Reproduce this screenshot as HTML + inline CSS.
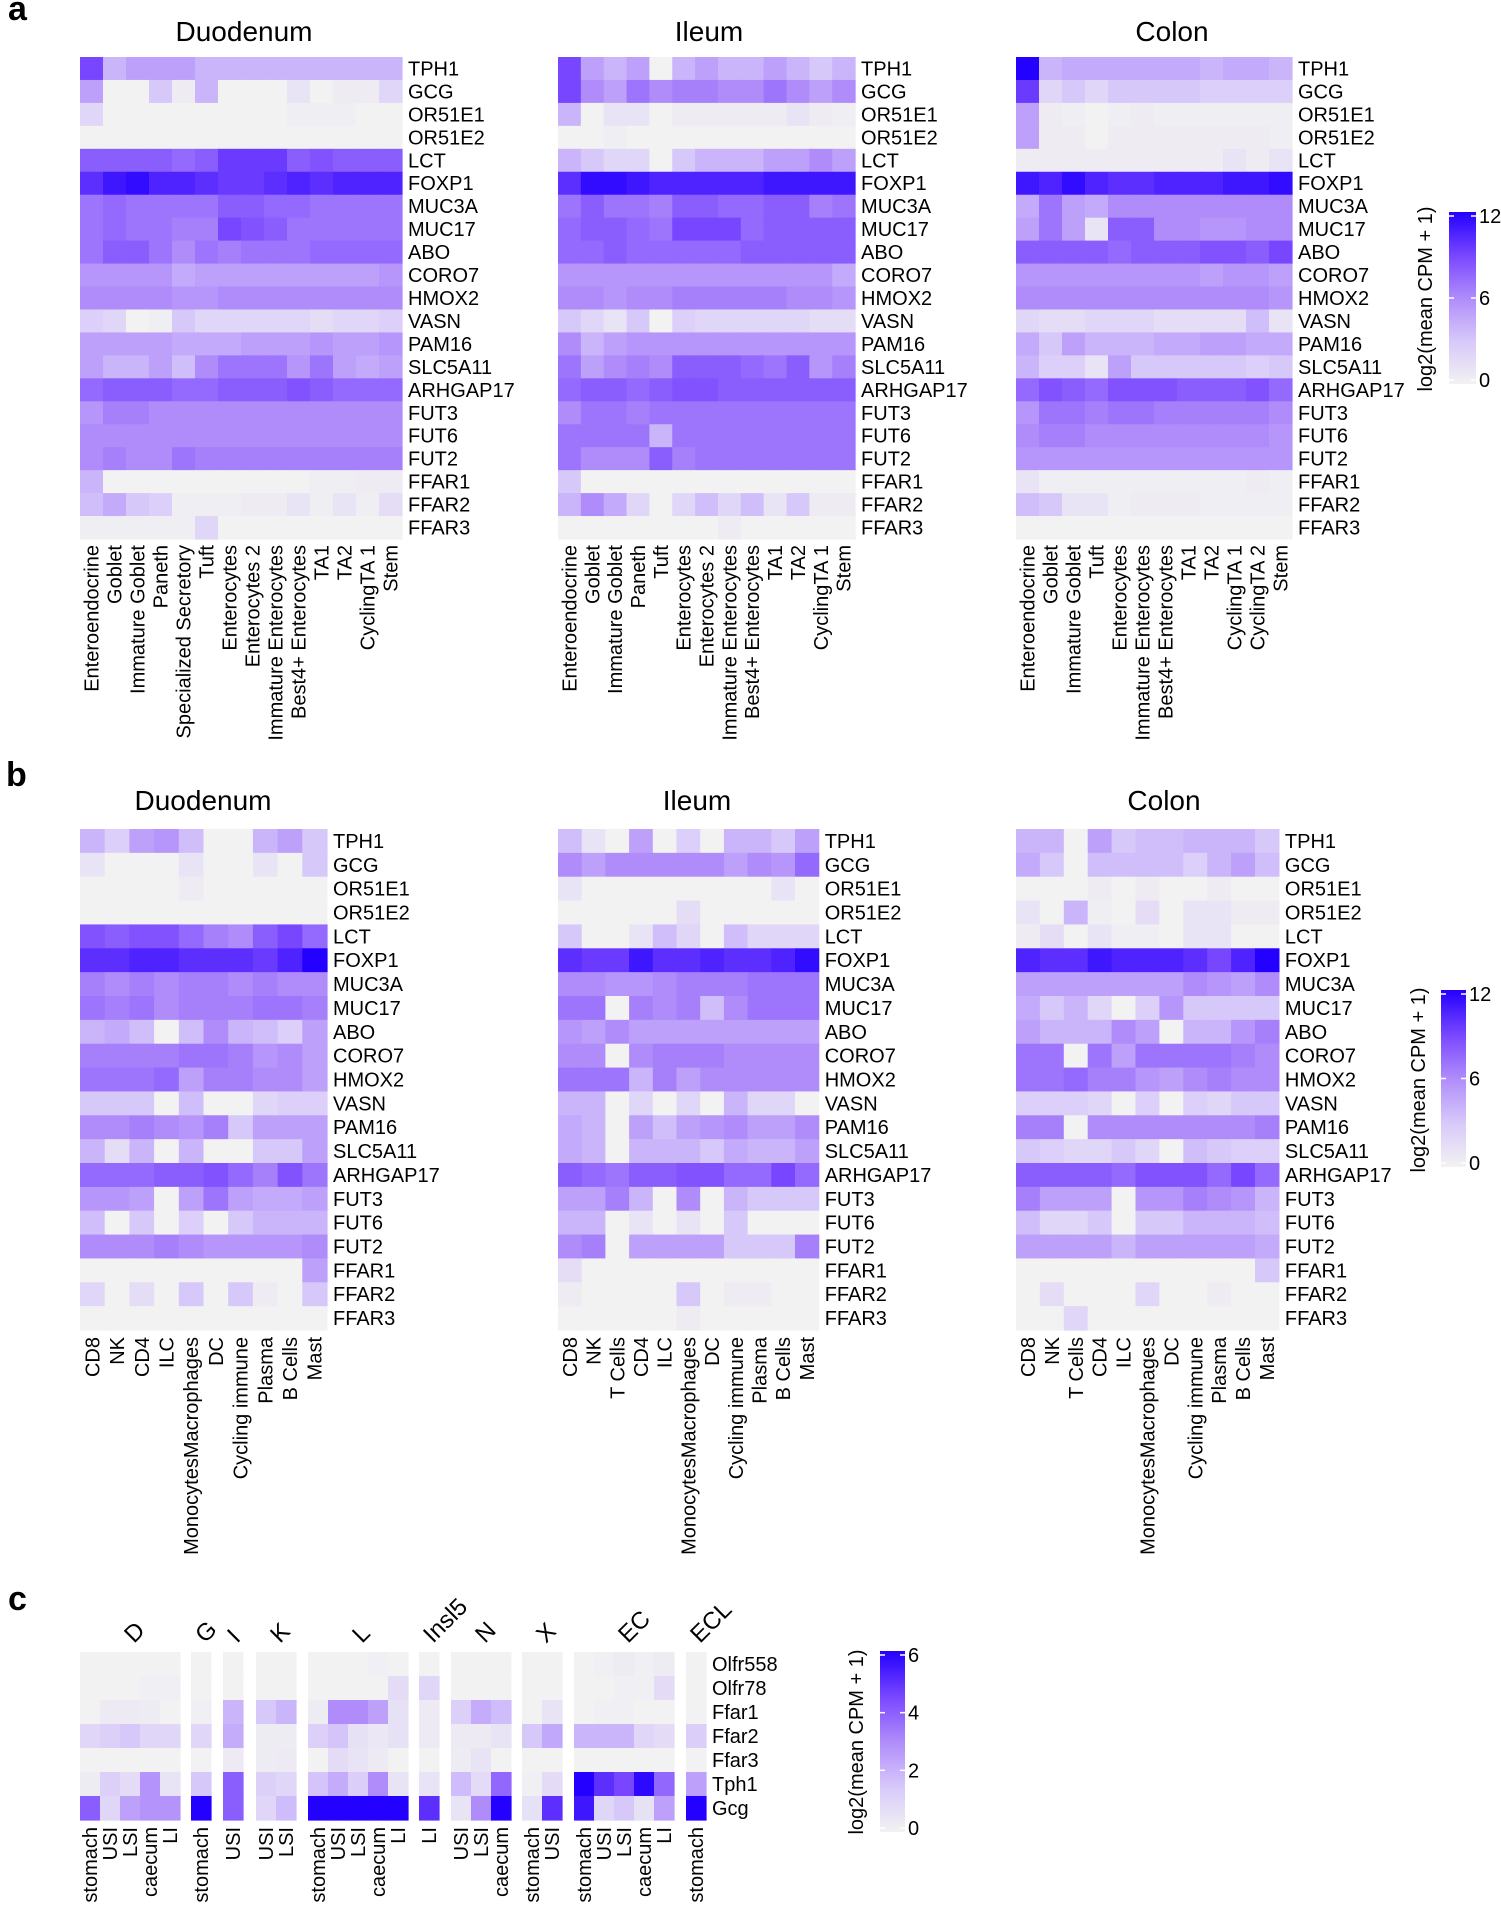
<!DOCTYPE html>
<html><head><meta charset="utf-8"><style>
html,body{margin:0;padding:0;background:#fff;}
svg{display:block;font-family:"Liberation Sans",Arial,sans-serif;}
</style></head><body>
<svg id="s" width="1501" height="1906" viewBox="0 0 1501 1906" xmlns="http://www.w3.org/2000/svg">
<rect width="1501" height="1906" fill="#fff"/>
<defs><linearGradient id="lg" x1="0" y1="1" x2="0" y2="0">
<stop offset="0" stop-color="#f2f2f2"/><stop offset="0.25" stop-color="#d7c8fa"/><stop offset="0.5" stop-color="#af8cfa"/><stop offset="0.75" stop-color="#7846ff"/><stop offset="1" stop-color="#2300ff"/></linearGradient></defs>
<g font-weight="bold" font-size="34" fill="#000"><text x="8" y="20">a</text><text x="6" y="786">b</text><text x="8" y="1610">c</text></g>
<g id="g"></g>
</svg>
<script>
var G=document.getElementById('g'),out='';
var stops=[[0,[242,242,242]],[3,[215,200,250]],[6,[175,140,250]],[9,[120,70,255]],[12,[35,0,255]]];
function col(v,max){var t=v/max*12;if(t>12)t=12;if(t<0)t=0;for(var i=0;i<4;i++){var a=stops[i],b=stops[i+1];if(t<=b[0]){var f=(t-a[0])/(b[0]-a[0]);return 'rgb('+[0,1,2].map(function(k){return Math.round(a[1][k]+(b[1][k]-a[1][k])*f)}).join(',')+')';}}return 'rgb(35,0,255)';}
function T(x,y,s,opt){opt=opt||{};out+='<text x="'+x+'" y="'+y+'" font-size="'+(opt.fs||20)+'"'+(opt.a?' text-anchor="'+opt.a+'"':'')+(opt.tr?' transform="'+opt.tr+'"':'')+'>'+s+'</text>';}
function heat(x0,y0,cw,rh,data,max,rows,cols,labGap){
 var nr=data.length,nc=data[0].length;
 for(var r=0;r<nr;r++)for(var c=0;c<nc;c++){out+='<rect x="'+(x0+c*cw).toFixed(2)+'" y="'+(y0+r*rh).toFixed(2)+'" width="'+(cw+0.6).toFixed(2)+'" height="'+(rh+0.6).toFixed(2)+'" fill="'+col(data[r][c],max)+'"/>';}
 if(rows)for(var r=0;r<nr;r++)T(x0+nc*cw+6,y0+r*rh+rh/2+7,rows[r]);
 if(cols)for(var c=0;c<nc;c++){var cx=x0+c*cw+cw/2+7,yy=y0+nr*rh+(labGap||6);T(0,0,cols[c],{a:'end',tr:'translate('+cx.toFixed(1)+','+yy.toFixed(1)+') rotate(-90)'});}
}
function legend(x,y,w,h,max,ticks,tx,ty){
 out+='<rect x="'+x+'" y="'+y+'" width="'+w+'" height="'+h+'" fill="url(#lg)"/>';
 ticks.forEach(function(v){var yy=y+h-4-(h-8)*v/max;out+='<line x1="'+x+'" x2="'+(x+5)+'" y1="'+yy+'" y2="'+yy+'" stroke="#fff" stroke-width="1.5"/><line x1="'+(x+w-5)+'" x2="'+(x+w)+'" y1="'+yy+'" y2="'+yy+'" stroke="#fff" stroke-width="1.5"/>';T(x+w+3,yy+7,v);});
 T(0,0,'log2(mean CPM + 1)',{a:'middle',tr:'translate('+tx+','+ty+') rotate(-90)'});
}
var genesA=['TPH1','GCG','OR51E1','OR51E2','LCT','FOXP1','MUC3A','MUC17','ABO','CORO7','HMOX2','VASN','PAM16','SLC5A11','ARHGAP17','FUT3','FUT6','FUT2','FFAR1','FFAR2','FFAR3'];
var aD=[[9,4,5,5,5,4,4,4,4,4,4,4,4,4],[5,0,0,3,0.5,4,0,0,0,1,0,0.5,0.5,2],[2,0,0,0,0,0,0,0,0,0.3,0.3,0.3,0,0],[0,0,0,0,0,0,0,0,0,0,0,0,0,0],[8,8,8,8,7.5,8,9.5,9.5,9.5,8,8.5,8,8,8],[10,11,11.5,10.5,10.5,10,9.5,9.5,10,10.5,10,10.5,10.5,10.5],[7,7.5,7,7,7,7,8,8,7.5,7.5,7,7,7,7],[7,7.5,7,7,6.5,6.5,9,8.5,8,7,7,7,7,7],[7,8,8,7,6,7,6.5,7,7,7,7.5,7.5,7.5,7.5],[5.5,5.5,5.5,5.5,4.5,5,5,5,5,5,5,5,5,5.5],[6,6,6,6,5.5,5.5,6,6,6,6,6,6,6,6],[2.5,2,0,0.3,3,2,2,2,2,2,1.5,2,2,2.5],[5,5,5,5,4.5,4.5,4.5,5,5,5,5.5,5,5,5.5],[5,4,4,5,3.5,6,7,7,7,5.5,7,5,4.5,5],[7.5,8,8,8,7.5,7.5,8,8,8,8.5,8,7.5,7.5,7.5],[5.5,6.5,6.5,6,6,6,6,6,6,6,6,6,6,6],[6,6,6,6,6,6,6,6,6,6,6,6,6,6],[6,6.5,6,6,7,6.5,6.5,6.5,6.5,6.5,6.5,6.5,6.5,6.5],[4,0,0,0,0,0,0,0,0,0,0.3,0.3,0.5,0.5],[3.5,4.5,3,2.5,0.3,0.3,0.3,0.5,0.5,1,0.3,1,0.3,1.5],[0.3,0.3,0.3,0.3,0.3,2,0,0,0,0,0,0,0,0]];
var aI=[[9,5,4,5,0,4,5,4,4,5,4,3,4],[9,6,5,7,6,6.5,6.5,6,6,7,6,5,6],[4,0,1,1,0,0.5,0.5,0.5,0.5,0.5,1,0.5,0.3],[0,0,0.3,0,0,0,0,0,0,0,0,0,0],[4,3,2,2,0,3,4,4,4,5,5,6,5],[10,11.5,11.5,11,10.5,10.5,10.5,10.5,10.5,11,11,11,11],[7,8,7,7,6.5,8,8,7.5,7.5,8,8,6.5,7],[7.5,8,8,7.5,7,9,9,9,7.5,8,8,8,8],[7.5,7.5,8,7.5,7.5,7.5,7.5,7.5,8,8,8,8,8],[5.5,5.5,5.5,5.5,5.5,5.5,5.5,5.5,5.5,5.5,5.5,5.5,4.5],[6,6,5.5,6,6,6.5,6.5,6.5,6.5,6.5,6,6,5.5],[3,2,1,3,0,2.5,2,2,2,2,2,1.5,1.5],[6,4,5,5.5,5.5,5.5,5.5,5.5,5.5,5.5,5.5,5.5,5.5],[7,5,6,6.5,6,8,8,8,7.5,7,8,5.5,6.5],[7.5,8,8,7.5,8,8.5,8.5,8,8,8,8,8,8],[6,7,7,6.5,7,7,7,7,7,7,7,7,7],[7,7,7,7,4,7,7,7,7,7,7,7,7],[7,6,6,6,8,6.5,7,7,7,7,7,7,7],[3,0,0,0,0,0,0,0,0,0,0,0,0],[4,6,4.5,2,0,2,3.5,2,3.5,1,3,0.5,0.5],[0,0,0,0,0,0,0,0.5,0,0,0,0,0]];
var aC=[[12,4,4.5,4.5,4.5,4.5,4.5,4.5,4,4.5,4.5,4],[9.5,2,3,2,3,3,3,3,2.5,2.5,2.5,2.5],[5,0.5,0.3,0,0.3,0.5,0.3,0.3,0.3,0.3,0.3,0.3],[5,0.5,0.5,0,0.5,0.5,0.5,0.5,0.5,0.5,0.5,0.3],[0.5,0.5,0.5,0.5,0.5,0.5,0.5,0.5,0.5,1,0.5,1],[11,10.5,11.5,10.5,10,10,10.5,10.5,10.5,11,11,11.5],[4.5,7,5,4.5,6,6,6,6,6,6,6,6],[5,7,5,1,8,8,6,6,5.5,5.5,6,6],[8,8,8,8,7.5,8,8,8,8.5,8.5,8,9],[5.5,5.5,5.5,5.5,5.5,5.5,5.5,5.5,5,5.5,5.5,5],[6,6,6,6,6,6,6,6,6,6,6,5.5],[2,1.5,1.5,2,2,2,1.5,1.5,1.5,1.5,3.5,1],[4.5,3,5,4,4,4,4.5,4.5,5,5,4.5,4.5],[4,2.5,2.5,1,5,3,3,3,3,3,2.5,3],[7.5,8.5,8,7.5,8.5,8.5,8.5,8,8,8,8.5,7.5],[5.5,7,7,6.5,7,7,6.5,6.5,6.5,6.5,6.5,6],[6,6.5,6.5,6,6,6,6,6,6,6,6,5.5],[5.5,5.5,5.5,5.5,5.5,5.5,5.5,5.5,5.5,5.5,5.5,5.5],[1,0.3,0.3,0.3,0.3,0.3,0.3,0.3,0.3,0.3,0.5,0.3],[3.5,3,1,1,0.3,0.5,0.5,0.5,0.3,0.3,0.3,0.3],[0,0,0,0,0,0,0,0,0,0,0,0]];
var rhA=(539-57)/21, rhB=(1330-829)/21;
heat(80,57,23,rhA,aD,12,genesA,['Enteroendocrine','Goblet','Immature Goblet','Paneth','Specialized Secretory','Tuft','Enterocytes','Enterocytes 2','Immature Enterocytes','Best4+ Enterocytes','TA1','TA2','CyclingTA 1','Stem']);
heat(558,57,22.85,rhA,aI,12,genesA,['Enteroendocrine','Goblet','Immature Goblet','Paneth','Tuft','Enterocytes','Enterocytes 2','Immature Enterocytes','Best4+ Enterocytes','TA1','TA2','CyclingTA 1','Stem']);
heat(1016,57,23,rhA,aC,12,genesA,['Enteroendocrine','Goblet','Immature Goblet','Tuft','Enterocytes','Immature Enterocytes','Best4+ Enterocytes','TA1','TA2','CyclingTA 1','CyclingTA 2','Stem']);
T(244,41,'Duodenum',{fs:28,a:'middle'});T(709,41,'Ileum',{fs:28,a:'middle'});T(1172,41,'Colon',{fs:28,a:'middle'});
legend(1449,212,27,172,12,[0,6,12],1432,299);
var bD=[[4,2.5,5,5.5,3.5,0,0,4,5,3],[1,0,0,0,1,0,0,1,0,3],[0,0,0,0,0.5,0,0,0,0,0],[0,0,0,0,0,0,0,0,0,0],[8.5,8,8.5,8.5,7.5,6.5,6,8,9,7.5],[10,10,10.5,10.5,10,10,10,9.5,10.5,12],[6.5,6,6.5,6,6.5,6.5,6,6.5,6,6],[7,6.5,7,6,6.5,6.5,6.5,7,7,6.5],[4,4.5,3.5,0,3.5,6,4,3.5,2.5,5],[6.5,6.5,6.5,6.5,7,7,6.5,5.5,6,5],[7,7,7,7.5,5,6.5,6.5,6,6,5],[3,3,3,0,3.5,0,0,2,2.5,2.5],[6,6,6.5,6,5.5,6.5,3,5,5,5],[4,1.5,4,0,4,0,0,3,3,5],[7.5,7.5,7.5,8,8,8.5,7.5,6.5,8.5,7],[5.5,5.5,5,0,5,7,5,4.5,4.5,5],[3.5,0,3,0,2.5,0,3,4,4,4],[6,6,6,6.5,6,5.5,5.5,5.5,5.5,6],[0,0,0,0,0,0,0,0,0,5],[2,0,1.5,0,3,0,3,0.5,0,3],[0,0,0,0,0,0,0,0,0,0]];
var bI=[[3.5,1,0,5,0,2.5,0,4,4,3,5],[6,5,6,6,6,6,6,5,6,5.5,7.5],[1,0,0,0,0,0,0,0,0,1,0],[0,0,0,0,0,1.5,0,0,0,0,0],[3,0,0,1,3.5,2,0,3.5,2,2,2],[10,9.5,9.5,11,10,10,10.5,10,10,10.5,11.5],[6,6,5.5,5.5,6,6.5,6.5,6.5,7,7,7],[7,7,0,6.5,6,6.5,3.5,6,7,7,7],[5.5,5,6,5,5,5,5,5,5,5,5],[6,6,0,6,6.5,6.5,6.5,6,6,6,6],[7,7,7,4,6.5,5,6,6,6,6,6],[4,4,0,2,0,2,0,4,2,2,0],[4.5,4,0,5,3.5,5,5.5,6,5,5,6],[4.5,4,0,4,4,4,3,4.5,4,4,5],[8,7.5,7,8,8,8.5,8.5,7.5,7.5,9,7.5],[5,5,6.5,4,0,6,0,4,3,3,3],[4,4,0,1,0,1,0,3,0,0,0],[6,6.5,0,5,5,5,5,3,3,3,6.5],[1.5,0,0,0,0,0,0,0,0,0,0],[0.5,0,0,0,0,3,0,0.5,0.5,0,0],[0,0,0,0,0,0.5,0,0,0,0,0]];
var bC=[[4,4,0,5,3,3.5,3.5,4,4,4,3],[4.5,3,0,3.5,3.5,3.5,3.5,2.5,4,5,3.5],[0,0,0,0.5,0,0.5,0,0,0.5,0,0],[1,0,4,0.3,0,1.5,0,1,1,0.5,0.5],[0.5,1.5,0,1,0.3,0.3,0,1,1,0,0],[10.5,10,10,11,10.5,10.5,10.5,10,9,10.5,12],[5,5,5,5,5,5,5,6,5.5,5,6],[4.5,3,4,2,0,2.5,5.5,3,3,3,3],[5,4,4,4,6,5,0,4,4,5.5,6.5],[7,7,0,7,5,7,7,7,7,6.5,6],[7,7,7.5,6.5,6.5,5.5,5,6,6.5,6,6],[2.5,2.5,2.5,2,0,2.5,0,2.5,2,3,3],[6.5,6.5,0,6,6,6,6,6,6,6,6.5],[3,2.5,2,2,3,2,0,3.5,3,2.5,2.5],[8,8,8,8,7.5,8.5,8.5,8.5,7.5,9,7.5],[6.5,5,5,5,0,5.5,5.5,6.5,6,5.5,4],[3.5,2,2,3,0,3,3,4,4,4,3.5],[5,5,5,5,4,5,5,5,5,5,4.5],[0,0,0,0,0,0,0,0,0,0,3],[0,1.5,0,0,0,2,0,0,0.5,0,0],[0,0,2,0,0,0,0,0,0,0,0]];
heat(80,829,24.7,rhB,bD,12,genesA,['CD8','NK','CD4','ILC','MonocytesMacrophages','DC','Cycling immune','Plasma','B Cells','Mast'],7);
heat(558,829,23.7,rhB,bI,12,genesA,['CD8','NK','T Cells','CD4','ILC','MonocytesMacrophages','DC','Cycling immune','Plasma','B Cells','Mast'],7);
heat(1016,829,23.9,rhB,bC,12,genesA,['CD8','NK','T Cells','CD4','ILC','MonocytesMacrophages','DC','Cycling immune','Plasma','B Cells','Mast'],7);
T(203,810,'Duodenum',{fs:28,a:'middle'});T(697,810,'Ileum',{fs:28,a:'middle'});T(1164,810,'Colon',{fs:28,a:'middle'});
legend(1441,990,25,177,12,[0,6,12],1425,1080);
var cr=['Olfr558','Olfr78','Ffar1','Ffar2','Ffar3','Tph1','Gcg'];
var blocks=[
['D',80,['stomach','USI','LSI','caecum','LI'],[[0,0,0,0,0],[0,0,0,0.1,0.1],[0,0.3,0.3,0.2,0],[1,1.2,1.5,1,1],[0,0,0,0,0],[0.2,1.2,0.8,2.8,0.5],[4,1,2.5,2.8,2.8]]],
['G',191,['stomach'],[[0],[0],[0.1],[1],[0],[1.5],[6]]],
['I',223,['USI'],[[0],[0],[2],[2.2],[0.3],[4],[4]]],
['K',256,['USI','LSI'],[[0,0],[0,0],[1.5,2],[0.2,0.2],[0.2,0.3],[1.2,1],[1,1.8]]],
['L',308,['stomach','USI','LSI','caecum','LI'],[[0,0,0,0.1,0],[0,0,0,0,0.8],[0.2,3,3,2.5,0.6],[1.2,1.6,0.6,0.4,0.6],[0,0.8,0.5,0.3,0],[1.6,2.2,1.3,3,0.5],[6,6,6,6,6]]],
['Insl5',419,['LI'],[[0],[1],[0.3],[0.3],[0],[0.5],[5]]],
['N',451,['USI','LSI','caecum'],[[0,0,0],[0,0,0],[1.2,2.2,1.8],[0.3,0.3,0.5],[0.2,0.5,0],[1.8,0.8,3.8],[0.5,3,6]]],
['X',522,['stomach','USI'],[[0,0],[0,0],[0,0.5],[1.5,2.3],[0,0],[0.1,0.8],[0.6,5]]],
['EC',574,['stomach','USI','LSI','caecum','LI'],[[0,0.1,0.2,0.1,0.2],[0,0,0.1,0.1,0.8],[0,0.1,0.1,0,0],[2,2,2,1,0.8],[0,0,0,0,0],[6,5,4.5,5.8,3.8],[5.5,1,1.5,0.6,2.5]]],
['ECL',686,['stomach'],[[0],[0],[0],[1.3],[0],[2.5],[6]]]];
blocks.forEach(function(b){heat(b[1],1652,20,24,b[3],6,null,b[2],7);var cx=b[1]+b[2].length*10;T(0,0,b[0],{fs:24,tr:'translate('+(cx+4)+',1644) rotate(-45)'});});
for(var r=0;r<7;r++)T(712,1652+r*24+19,cr[r]);
legend(880,1651,25,181,6,[0,2,4,6],863,1742);
G.innerHTML=out;
</script>
</body></html>
